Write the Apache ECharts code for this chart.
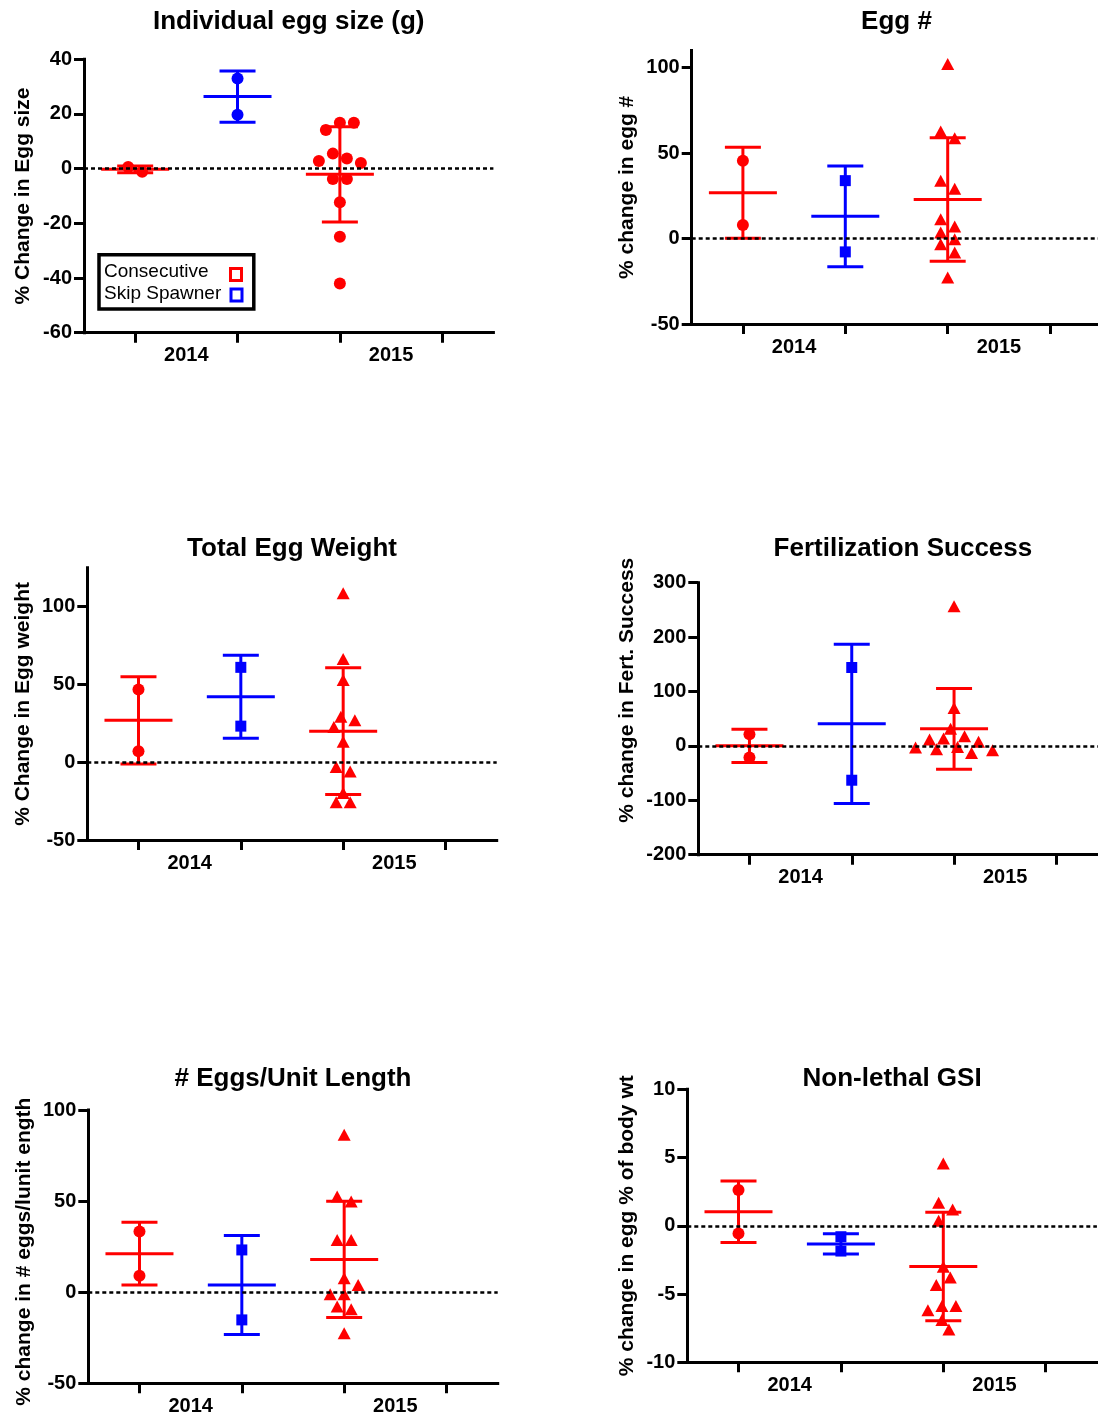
<!DOCTYPE html>
<html>
<head>
<meta charset="utf-8">
<script src="https://cdn.jsdelivr.net/npm/echarts@6/dist/echarts.min.js"></script>
<style>
  html, body { margin: 0; padding: 0; background: #ffffff; }
  #chart { width: 1098px; height: 1418px; }
</style>
</head>
<body>
<div id="chart"></div>
<script>
// Column groups on each x axis and the year captions under them
const groupNames = ['Consecutive 2014', 'Skip Spawner 2014', 'Consecutive 2015', 'Skip Spawner 2015'];
const yearLabels = ['2014', '2015'];
const legendNames = ['Consecutive', 'Skip Spawner'];

// Individual egg size (g): % change
const eggSizeCons2014 = [-1.1, 0.6];
const eggSizeSkip2014 = [33.0, 19.7];
const eggSizeCons2015 = [16.8, 16.8, 14.1, 5.5, 2.1, 3.7, 2.8, -3.8, -3.8, -12.3, -24.9, -42.0];
const eggSizeTicks = [-60, -40, -20, 0, 20, 40];

// Egg #: % change
const eggNumCons2014 = [45.6, 8.0];
const eggNumSkip2014 = [33.9, -7.8];
const eggNumCons2015 = [102.2, 58.7, 62.6, 33.9, 29.2, 11.3, 7.0, 3.5, -3.3, -0.4, -8.2, -22.8];
const eggNumTicks = [-50, 0, 50, 100];

// Total egg weight: % change
const eggWtCons2014 = [46.8, 7.1];
const eggWtSkip2014 = [61.0, 23.2];
const eggWtCons2015 = [108.6, 66.3, 52.8, 29.2, 27.0, 22.7, 13.1, -3.0, -6.0, -19.8, -25.8, -25.8];
const eggWtTicks = [-50, 0, 50, 100];

// Fertilization success: % change
const fertCons2014 = [21.5, -21.4];
const fertSkip2014 = [144.1, -63.1];
const fertCons2015 = [256.5, 69.5, 31.5, 17.8, 11.8, 13.6, 7.4, -3.0, -6.1, -1.8, -7.9, -12.9];
const fertTicks = [-200, -100, 0, 100, 200, 300];

// # eggs per unit length: % change
const perLenCons2014 = [33.3, 9.0];
const perLenSkip2014 = [23.2, -15.2];
const perLenCons2015 = [86.4, 49.8, 52.5, 28.7, 28.7, 7.7, 4.0, -1.1, -1.1, -7.9, -9.3, -22.5];
const perLenTicks = [-50, 0, 50, 100];

// Non-lethal GSI: % change in egg % of body weight
const gsiCons2014 = [2.62, -0.56];
const gsiSkip2014 = [-0.8, -1.85];
const gsiCons2015 = [4.57, 1.69, 1.2, 0.37, -3.0, -3.78, -4.34, -5.88, -5.88, -6.18, -6.91, -7.59];
const gsiTicks = [-10, -5, 0, 5, 10];

const RED = '#ff0000';
const BLUE = '#0000ff';
const FONT = "'Liberation Sans', Arial, Helvetica, sans-serif";
const groupColors = [RED, BLUE, RED, BLUE];

const panels = [
  { title: 'Individual egg size (g)', yName: '% Change in Egg size',
    sets: [eggSizeCons2014, eggSizeSkip2014, eggSizeCons2015], shapes: ['circle', 'circle', 'circle'],
    ticks: eggSizeTicks, min: -60, max: 40,
    box: { left: 84, top: 59.3, width: 409.4, height: 273.4 }, nameGap: 50, namePad: 0, titleY: 22 },
  { title: 'Egg #', yName: '% change in egg #',
    sets: [eggNumCons2014, eggNumSkip2014, eggNumCons2015], shapes: ['circle', 'rect', 'triangle'],
    ticks: eggNumTicks, min: -50, max: 110,
    box: { left: 691.7, top: 50.6, width: 409.6, height: 273.4 }, nameGap: 54, namePad: 0, titleY: 22 },
  { title: 'Total Egg Weight', yName: '% Change in Egg weight',
    sets: [eggWtCons2014, eggWtSkip2014, eggWtCons2015], shapes: ['circle', 'rect', 'triangle'],
    ticks: eggWtTicks, min: -50, max: 125,
    box: { left: 87.3, top: 567.8, width: 409.4, height: 272.2 }, nameGap: 54, namePad: 0, titleY: 549 },
  { title: 'Fertilization Success', yName: '% change in Fert. Success',
    sets: [fertCons2014, fertSkip2014, fertCons2015], shapes: ['circle', 'rect', 'triangle'],
    ticks: fertTicks, min: -200, max: 300,
    box: { left: 698.3, top: 582.7, width: 409.2, height: 272 }, nameGap: 61, namePad: 57, titleY: 549 },
  { title: '# Eggs/Unit Length', yName: '% change in # eggs/lunit ength',
    sets: [perLenCons2014, perLenSkip2014, perLenCons2015], shapes: ['circle', 'rect', 'triangle'],
    ticks: perLenTicks, min: -50, max: 100,
    box: { left: 88.3, top: 1110, width: 409.4, height: 273.3 }, nameGap: 54, namePad: -10, titleY: 1079 },
  { title: 'Non-lethal GSI', yName: '% change in egg % of body wt',
    sets: [gsiCons2014, gsiSkip2014, gsiCons2015], shapes: ['circle', 'rect', 'triangle'],
    ticks: gsiTicks, min: -10, max: 10,
    box: { left: 687.3, top: 1089.3, width: 409.6, height: 273 }, nameGap: 50, namePad: 0, titleY: 1079 }
];

const symbolSizes = { circle: 12, rect: 11, triangle: [13, 12] };

function mean(a) { return a.reduce((s, v) => s + v, 0) / a.length; }
function sd(a) {
  const m = mean(a);
  return Math.sqrt(a.reduce((s, v) => s + (v - m) * (v - m), 0) / (a.length - 1));
}

// Horizontal spreading of overlapping points (a simple beeswarm), in pixels
function swarmOffsets(values, pxPerUnit, diameter, step) {
  const order = values.map((v, i) => i).sort((a, b) => values[b] - values[a]);
  const dx = new Array(values.length).fill(0);
  const placed = [];
  for (const i of order) {
    const y = -values[i] * pxPerUnit;
    for (let k = 0; k < 60; k++) {
      const slot = k === 0 ? 0 : (k % 2 ? 1 : -1) * Math.ceil(k / 2);
      const x = slot * step;
      if (placed.every(p => (p.x - x) * (p.x - x) + (p.y - y) * (p.y - y) >= diameter * diameter)) {
        placed.push({ x, y });
        dx[i] = x;
        break;
      }
    }
  }
  // centre every vertical run of touching points on the column
  let run = [];
  let prevY = null;
  const flush = () => {
    if (run.length > 1) {
      const m = run.reduce((s, i) => s + dx[i], 0) / run.length;
      run.forEach(i => { dx[i] -= m; });
    }
    run = [];
  };
  for (const i of order) {
    const y = -values[i] * pxPerUnit;
    if (prevY !== null && y - prevY >= diameter) flush();
    run.push(i);
    prevY = y;
  }
  flush();
  return dx;
}

const grids = [], xAxes = [], yAxes = [], series = [], graphics = [];

const axisLineStyle = { color: '#000', width: 3, cap: 'square' };
const boldText = { color: '#000', fontFamily: FONT, fontWeight: 'bold' };

panels.forEach((p, pi) => {
  grids.push(Object.assign({ containLabel: false, outerBoundsMode: 'none' }, p.box));

  // group axis (ticks only)
  xAxes.push({
    type: 'category', gridIndex: pi, position: 'bottom', data: groupNames, boundaryGap: true,
    axisLine: { onZero: false, lineStyle: axisLineStyle },
    axisTick: { show: true, interval: 0, alignWithLabel: true, length: 10, lineStyle: { color: '#000', width: 3 } },
    axisLabel: { show: false, interval: 0 }, splitLine: { show: false }
  });
  // year captions
  xAxes.push({
    type: 'category', gridIndex: pi, position: 'bottom', data: yearLabels, boundaryGap: true,
    axisLine: { show: false, onZero: false }, axisTick: { show: false }, splitLine: { show: false },
    axisLabel: Object.assign({ margin: 13, fontSize: 20, interval: 0 }, boldText)
  });
  yAxes.push({
    type: 'value', gridIndex: pi, min: p.min, max: p.max,
    name: p.yName, nameLocation: 'middle', nameGap: p.nameGap,
    nameTextStyle: Object.assign({ fontSize: 21,
      padding: p.namePad > 0 ? [0, 0, 0, p.namePad] : (p.namePad < 0 ? [0, -p.namePad, 0, 0] : 0) }, boldText),
    axisLine: { show: true, onZero: false, lineStyle: axisLineStyle },
    axisTick: { show: true, inside: false, length: 10, customValues: p.ticks, lineStyle: { color: '#000', width: 3 } },
    axisLabel: Object.assign({ margin: 12, fontSize: 20, customValues: p.ticks }, boldText),
    splitLine: { show: false }
  });

  const pxPerUnit = p.box.height / (p.max - p.min);

  p.sets.forEach((vals, gi) => {
    const shape = p.shapes[gi];
    const offs = swarmOffsets(vals, pxPerUnit, 11.5, 7);
    const s = {
      type: 'scatter', xAxisIndex: pi * 2, yAxisIndex: pi,
      name: gi === 1 ? legendNames[1] : legendNames[0],
      symbol: shape, symbolSize: symbolSizes[shape],
      itemStyle: { color: groupColors[gi], opacity: 1 },
      z: 4, silent: true,
      data: vals.map((v, k) => ({ value: [gi, v], symbolOffset: [offs[k], 0] }))
    };
    if (gi === 0) {
      s.markLine = {
        silent: true, symbol: 'none', animation: false,
        label: { show: false },
        lineStyle: { color: '#000', width: 2.5, type: [4, 3] },
        emphasis: { disabled: true },
        data: [{ yAxis: 0 }]
      };
    }
    series.push(s);
  });

  // mean line with +/- SD error bars
  series.push({
    type: 'custom', xAxisIndex: pi * 2, yAxisIndex: pi, z: 3, silent: true, clip: false,
    encode: { x: 0, y: 1 },
    data: p.sets.map((vals, gi) => [gi, mean(vals), sd(vals)]),
    renderItem(params, api) {
      const gi = api.value(0), m = api.value(1), d = api.value(2);
      const c = api.coord([gi, m]);
      const hi = api.coord([gi, m + d]);
      const lo = api.coord([gi, m - d]);
      const style = { stroke: groupColors[gi], lineWidth: 3, fill: null };
      const line = (x1, y1, x2, y2) => ({ type: 'line', shape: { x1, y1, x2, y2 }, style });
      return {
        type: 'group',
        children: [
          line(c[0] - 34, c[1], c[0] + 34, c[1]),
          line(c[0], hi[1], c[0], lo[1]),
          line(c[0] - 18, hi[1], c[0] + 18, hi[1]),
          line(c[0] - 18, lo[1], c[0] + 18, lo[1])
        ]
      };
    }
  });

  // panel title
  graphics.push({
    type: 'text', x: p.box.left + p.box.width / 2, y: p.titleY, silent: true,
    style: { text: p.title, fill: '#000', fontFamily: FONT, fontSize: 26, fontWeight: 'bold',
      align: 'center', verticalAlign: 'middle', textAlign: 'center', textVerticalAlign: 'middle' }
  });
});

// legend box inside the first panel
graphics.push(
  { type: 'rect', silent: true, shape: { x: 99, y: 254.8, width: 154.8, height: 54.2 },
    style: { fill: '#fff', stroke: '#000', lineWidth: 3.5 }, z: 10 },
  { type: 'text', silent: true, x: 104, y: 272, z: 11,
    style: { text: legendNames[0], fill: '#000', fontFamily: FONT, fontSize: 19,
      align: 'left', verticalAlign: 'middle', textAlign: 'left', textVerticalAlign: 'middle' } },
  { type: 'text', silent: true, x: 104, y: 294, z: 11,
    style: { text: legendNames[1], fill: '#000', fontFamily: FONT, fontSize: 19,
      align: 'left', verticalAlign: 'middle', textAlign: 'left', textVerticalAlign: 'middle' } },
  { type: 'rect', silent: true, shape: { x: 230.5, y: 268.5, width: 11, height: 12 },
    style: { fill: '#fff', stroke: RED, lineWidth: 3 }, z: 11 },
  { type: 'rect', silent: true, shape: { x: 231, y: 289, width: 11, height: 12 },
    style: { fill: '#fff', stroke: BLUE, lineWidth: 3 }, z: 11 }
);

const chart = echarts.init(document.getElementById('chart'), null, { renderer: 'canvas' });
chart.setOption({
  animation: false,
  backgroundColor: '#ffffff',
  textStyle: { fontFamily: FONT },
  grid: grids,
  xAxis: xAxes,
  yAxis: yAxes,
  series: series,
  graphic: { elements: graphics }
});
</script>
</body>
</html>
